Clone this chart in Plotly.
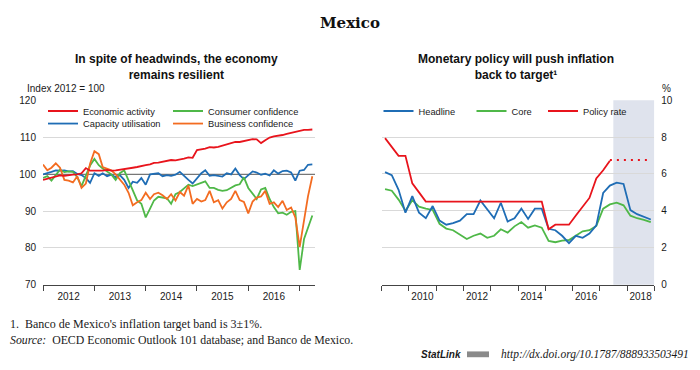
import pandas as pd
import plotly.graph_objects as go

# ---------------- data: left panel (monthly, Jan 2012 - Apr 2017) ----------------
left_start = "2012-01-01"
economic_activity = [98.5, 98.8, 99.2, 99.5, 99.7, 99.6, 99.8, 99.9, 100.0, 100.3, 101.7, 101.0,
                     101.0, 100.9, 101.0, 101.2, 101.0, 101.1, 101.3, 101.6, 101.7, 101.8, 102.0, 102.3,
                     102.5, 102.7, 103.1, 103.2, 103.4, 103.6, 103.9, 103.8, 104.0, 104.3, 104.6, 104.5,
                     106.6, 106.8, 107.0, 107.4, 107.3, 107.5, 107.8, 108.3, 108.6, 108.8, 108.8, 109.0,
                     109.3, 109.6, 109.5, 108.5, 109.3, 110.0, 110.3, 110.4, 110.7, 111.0, 111.3, 111.6,
                     111.9, 112.1, 112.1, 112.2]
capacity_utilisation = [100.0, 100.3, 100.7, 101.1, 101.0, 101.1, 100.8, 100.9, 100.1, 99.8, 99.0, 97.7,
                        100.3, 99.6, 100.3, 99.5, 99.9, 99.2, 99.8, 98.5, 96.3, 98.0, 97.7, 99.0,
                        97.2, 100.0, 100.1, 100.3, 99.5, 99.8, 99.6, 99.9, 100.7, 99.5, 98.5, 97.5,
                        98.8, 100.3, 101.1, 99.6, 99.8, 99.6, 99.4, 100.3, 100.0, 101.6, 99.8, 98.7,
                        99.8, 100.8, 100.5, 99.9, 100.2, 99.7, 101.1, 100.2, 100.9, 101.0, 100.5, 98.3,
                        101.0, 101.2, 102.6, 102.7]
consumer_confidence = [99.0, 99.5, 98.3, 100.0, 101.3, 100.6, 100.8, 100.7, 99.2, 96.8, 99.5, 102.4,
                       104.2, 102.5, 101.6, 100.8, 100.0, 98.5, 100.3, 101.1, 98.5, 95.5, 92.9, 92.0,
                       88.3, 90.7, 92.9, 93.9, 93.7, 93.5, 92.0, 94.6, 95.2, 96.3, 97.2, 96.8,
                       97.2, 97.8, 98.1, 96.3, 96.3, 95.8, 95.5, 95.7, 96.3, 97.0, 97.3, 99.2,
                       96.3, 94.6, 93.3, 95.9, 96.3, 93.3, 91.1, 89.4, 89.6, 89.0, 89.8, 90.0,
                       74.0, 82.4, 85.5, 88.8]
business_confidence = [102.7, 101.1, 101.8, 103.0, 101.8, 98.5, 98.3, 97.8, 99.5, 96.3, 97.5, 102.9,
                       106.3, 105.5, 102.0, 101.6, 101.1, 100.0, 98.5, 97.2, 95.0, 91.6, 92.4, 93.0,
                       95.0, 93.3, 94.6, 95.0, 94.3, 93.3, 94.6, 92.9, 95.2, 94.2, 97.0, 92.0,
                       93.3, 92.6, 93.0, 95.5, 92.4, 93.0, 90.7, 92.4, 93.3, 95.5, 93.0, 92.5,
                       89.4, 92.6, 93.7, 94.0, 95.5, 92.0, 92.4, 91.1, 92.8, 90.3, 91.0, 88.3,
                       80.3, 88.0, 94.0, 99.5]
left_tickvals = ["2012-07-01", "2013-07-01", "2014-07-01", "2015-07-01", "2016-07-01"]
left_ticktext = ["2012", "2013", "2014", "2015", "2016"]
left_yticks = [70, 80, 90, 100, 110, 120]
left_gridlines = [80, 90, 110, 120]
left_reference = 100

# ---------------- data: right panel (quarterly, 2009Q1 - 2018Q4) ----------------
right_start = "2009Q1"
headline = [6.1, 5.93, 5.14, 3.9, 4.8, 3.9, 3.6, 4.26, 3.47, 3.25,
            3.33, 3.47, 3.82, 3.82, 4.56, 4.09, 3.6, 4.44, 3.42, 3.6,
            4.12, 3.56, 4.12, 4.12, 3.03, 2.95, 2.65, 2.25, 2.65, 2.54,
            2.77, 3.21, 4.97, 5.37, 5.53, 5.46, 4.04, 3.82, 3.68, 3.53]
core = [5.18, 5.09, 4.61, 4.0, 4.58, 4.23, 4.12, 4.05, 3.3, 3.04,
        2.95, 2.72, 2.47, 2.65, 2.77, 2.54, 2.65, 3.0, 2.82, 3.16,
        3.39, 3.09, 3.21, 3.09, 2.37, 2.3, 2.39, 2.42, 2.65, 2.89,
        2.95, 3.18, 4.12, 4.35, 4.44, 4.3, 3.74, 3.6, 3.51, 3.39]
policy_rate = [7.94, 7.45, 6.98, 6.98, 5.49, 5.0, 4.5, 4.5, 4.5, 4.5,
               4.5, 4.5, 4.5, 4.5, 4.5, 4.5, 4.5, 4.5, 4.5, 4.5,
               4.5, 4.5, 4.5, 4.5, 3.0, 3.25, 3.25, 3.25, 3.75, 4.25,
               4.7, 5.76, 6.2, 6.72]
policy_rate_projection = [6.75, 6.75, 6.75, 6.75, 6.75, 6.75, 6.75]
projection_period = ["2017-07-01", "2019-01-01"]
right_tickvals = ["2010-07-01", "2012-07-01", "2014-07-01", "2016-07-01", "2018-07-01"]
right_ticktext = ["2010", "2012", "2014", "2016", "2018"]

# ---------------- x positions ----------------
left_x = pd.date_range(left_start, periods=len(economic_activity), freq="MS")
right_x = pd.period_range(right_start, periods=len(headline), freq="Q").to_timestamp(how="start") + pd.Timedelta(days=45)
proj_x = right_x[len(policy_rate) - 1:]

FW, FH = 700, 370


def PX(x):
    return x / FW


def PY(y):
    return 1 - y / FH


RED = "#e8141c"
BLUE = "#1f6db5"
GREEN = "#4fb848"
ORANGE = "#f36c21"
SHADE = "#dfe3ed"
GRID = "#d9d9d9"
AXIS = "#444444"
W = 1.8

fig = go.Figure()

fig.add_trace(go.Scatter(x=left_x, y=capacity_utilisation, name="Capacity utilisation", mode="lines",
                         line=dict(color=BLUE, width=W), xaxis="x", yaxis="y", legend="legend2"))
fig.add_trace(go.Scatter(x=left_x, y=consumer_confidence, name="Consumer confidence", mode="lines",
                         line=dict(color=GREEN, width=W), xaxis="x", yaxis="y", legend="legend3"))
fig.add_trace(go.Scatter(x=left_x, y=business_confidence, name="Business confidence", mode="lines",
                         line=dict(color=ORANGE, width=W), xaxis="x", yaxis="y", legend="legend4"))
fig.add_trace(go.Scatter(x=left_x, y=economic_activity, name="Economic activity", mode="lines",
                         line=dict(color=RED, width=W), xaxis="x", yaxis="y", legend="legend"))

fig.add_trace(go.Scatter(x=right_x, y=core, name="Core", mode="lines",
                         line=dict(color=GREEN, width=W), xaxis="x2", yaxis="y2", legend="legend6"))
fig.add_trace(go.Scatter(x=right_x, y=headline, name="Headline", mode="lines",
                         line=dict(color=BLUE, width=W), xaxis="x2", yaxis="y2", legend="legend5"))
fig.add_trace(go.Scatter(x=right_x[:len(policy_rate)], y=policy_rate, name="Policy rate", mode="lines",
                         line=dict(color=RED, width=W), xaxis="x2", yaxis="y2", legend="legend7"))
fig.add_trace(go.Scatter(x=proj_x, y=policy_rate_projection, name="Policy rate projection", mode="lines",
                         line=dict(color=RED, width=2, dash="2px,5px"), xaxis="x2", yaxis="y2",
                         showlegend=False))

SANS = "Liberation Sans, Arial, sans-serif"
SERIF = "Liberation Serif, Times New Roman, serif"
LEG_FONT = dict(family=SANS, size=9.3, color="#1a1a1a")
TICK_FONT = dict(family=SANS, size=10, color="#1a1a1a")


def legend_at(xpx, ypx):
    return dict(x=PX(xpx), y=PY(ypx), xanchor="left", yanchor="middle",
                bgcolor="rgba(0,0,0,0)", borderwidth=0, font=LEG_FONT,
                orientation="h", itemclick=False, itemdoubleclick=False)


fig.update_layout(
    width=FW, height=FH,
    margin=dict(l=0, r=0, t=0, b=0),
    paper_bgcolor="white", plot_bgcolor="rgba(0,0,0,0)",
    font=dict(family=SANS, size=10, color="#1a1a1a"),
    showlegend=True,
    hovermode=False,
    legend=legend_at(43, 108.5),
    legend2=legend_at(43, 121.5),
    legend3=legend_at(168, 108.5),
    legend4=legend_at(168, 121.5),
    legend5=legend_at(378.5, 108.5),
    legend6=legend_at(471.5, 108.5),
    legend7=legend_at(543, 108.5),
    xaxis=dict(domain=[PX(43), PX(315)], range=["2012-01-01", "2017-04-20"], type="date",
               anchor="y", tickmode="array", tickvals=left_tickvals, ticktext=left_ticktext,
               ticks="", showgrid=False, zeroline=False, showline=True, linecolor=AXIS, linewidth=1,
               tickfont=TICK_FONT, ticklabelstandoff=2,
               minor=dict(dtick="M12", tick0="2012-01-01", ticks="outside", ticklen=5,
                          tickcolor=AXIS, tickwidth=1, showgrid=False)),
    yaxis=dict(domain=[PY(288), PY(98)], range=[70, 120], anchor="x",
               tickmode="array", tickvals=left_yticks,
               showgrid=False, zeroline=False, showline=False,
               ticks="", tickfont=TICK_FONT, ticklabelstandoff=6,
               minor=dict(tickmode="array", tickvals=left_gridlines, showgrid=True,
                          gridcolor=GRID, gridwidth=1, ticks="")),
    xaxis2=dict(domain=[PX(381.7), PX(654.3)], range=["2009-01-01", "2019-01-01"], type="date",
                anchor="y2", tickmode="array", tickvals=right_tickvals, ticktext=right_ticktext,
                ticks="", showgrid=False, zeroline=False, showline=True, linecolor=AXIS, linewidth=1,
                tickfont=TICK_FONT, ticklabelstandoff=2,
                minor=dict(dtick="M12", tick0="2009-01-01", ticks="outside", ticklen=5,
                           tickcolor=AXIS, tickwidth=1, showgrid=False)),
    yaxis2=dict(domain=[PY(288), PY(97.3)], range=[0, 10], dtick=2, anchor="x2",
                side="right", showgrid=True, gridcolor=GRID, gridwidth=1, zeroline=False,
                showline=False, ticks="", tickfont=TICK_FONT, ticklabelstandoff=6),
)

# projection shading (below grid) and the 100 reference line (below traces)
fig.add_shape(type="rect", xref="x2", yref="y2 domain", x0=projection_period[0], x1=projection_period[1],
              y0=0, y1=1, fillcolor=SHADE, line=dict(width=0), layer="below")
fig.add_shape(type="line", xref="x domain", yref="y", x0=0, x1=1, y0=left_reference, y1=left_reference,
              line=dict(color="#777777", width=1.2), layer="below")

annots = [
    dict(text="<b>Mexico</b>", x=PX(350), y=PY(18), xanchor="center", yanchor="middle",
         font=dict(family="DejaVu Serif, serif", size=15, color="#111")),
    dict(text="<b>In spite of headwinds, the economy<br>remains resilient</b>", x=PX(176), y=PY(63),
         xanchor="center", yanchor="middle", font=dict(family=SANS, size=12, color="#111")),
    dict(text="<b>Monetary policy will push inflation<br>back to target¹</b>", x=PX(516), y=PY(63),
         xanchor="center", yanchor="middle", font=dict(family=SANS, size=12, color="#111")),
    dict(text="Index 2012 = 100", x=PX(25), y=PY(85), xanchor="left", yanchor="middle",
         font=dict(family=SANS, size=10, color="#1a1a1a")),
    dict(text="%", x=PX(660), y=PY(85), xanchor="left", yanchor="middle",
         font=dict(family=SANS, size=10, color="#1a1a1a")),
    dict(text="1.  Banco de Mexico's inflation target band is 3±1%.", x=PX(8), y=PY(329),
         xanchor="left", yanchor="middle", font=dict(family=SERIF, size=12, color="#1a1a1a")),
    dict(text="<i>Source:</i>  OECD Economic Outlook 101 database; and Banco de Mexico.", x=PX(8),
         y=PY(345), xanchor="left", yanchor="middle", font=dict(family=SERIF, size=11.8, color="#1a1a1a")),
    dict(text="<b><i>StatLink</i></b>", x=PX(419), y=PY(360), xanchor="left", yanchor="middle",
         font=dict(family=SANS, size=10, color="#1a1a1a")),
    dict(text="<i>http://dx.doi.org/10.1787/888933503491</i>", x=PX(691), y=PY(360),
         xanchor="right", yanchor="middle", font=dict(family=SERIF, size=11.5, color="#1a1a1a")),
]
for a in annots:
    fig.add_annotation(xref="paper", yref="paper", showarrow=False, **a)

# small StatLink logo box
fig.add_shape(type="rect", xref="paper", yref="paper", x0=PX(467), x1=PX(489),
              y0=PY(363), y1=PY(357), fillcolor="#8a8a8a", line=dict(width=0))

fig.write_html("out.html", config={"displayModeBar": False, "staticPlot": True},
               post_script="document.body.style.margin='0';")
